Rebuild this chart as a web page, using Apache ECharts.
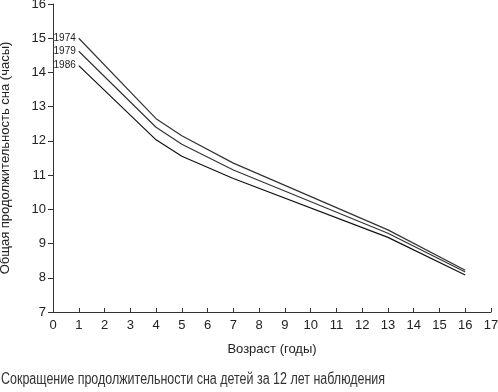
<!DOCTYPE html>
<html><head><meta charset="utf-8">
<script src="https://cdn.jsdelivr.net/npm/echarts@6/dist/echarts.min.js"></script>
<style>html,body{margin:0;padding:0;background:#fff}#c{width:498px;height:392px}</style>
</head><body><div id="c"></div>
<script>
var ages = [1, 4, 5, 7, 13, 16];
var s1974 = [15.0, 12.65, 12.15, 11.35, 9.4, 8.22];
var s1979 = [14.62, 12.4, 11.9, 11.15, 9.3, 8.17];
var s1986 = [14.2, 12.03, 11.55, 10.9, 9.18, 8.08];
var seriesNames = ['1974', '1979', '1986'];
var xTicks = [0,1,2,3,4,5,6,7,8,9,10,11,12,13,14,15,16,17];
var yTicks = [7,8,9,10,11,12,13,14,15,16];
var caption = 'Сокращение продолжительности сна детей за 12 лет наблюдения';

function mk(name, vals, color){
  return {
    name: name, type: 'line', symbol: 'circle', symbolSize: 0.01, showSymbol: true, silent: true,
    itemStyle: {color: color},
    lineStyle: {color: color, width: 1.2},
    label: {show: false},
    data: ages.map(function(a, i){
      var d = {value: [a, vals[i]]};
      if (i === 0) d.label = {show: true, position: 'left', distance: 3, formatter: name,
        fontFamily: 'Liberation Sans, Arial', fontSize: 10, color: '#222'};
      return d;
    })
  };
}
var chart = echarts.init(document.getElementById('c'), null, {renderer: 'canvas'});
chart.setOption({
  animation: false,
  grid: {left: 53, right: 7, top: 4, bottom: 80, containLabel: false, outerBoundsMode: 'none'},
  graphic: [{type: 'text', left: 1, top: 372, scaleX: 0.78,
    style: {text: caption, font: '16px "Liberation Sans", Arial, sans-serif', fill: '#333'}}],
  xAxis: {type: 'value', min: xTicks[0], max: xTicks[xTicks.length-1], interval: 1,
    name: 'Возраст (годы)', nameLocation: 'middle', nameGap: 31,
    nameTextStyle: {fontFamily: 'Liberation Sans, Arial', fontSize: 13, color: '#222'},
    axisLine: {lineStyle: {color: '#333', width: 1}},
    axisTick: {inside: true, length: 4, lineStyle: {color: '#333'}},
    axisLabel: {fontFamily: 'Liberation Sans, Arial', fontSize: 13, color: '#222', margin: 7},
    splitLine: {show: false}},
  yAxis: {type: 'value', min: yTicks[0], max: yTicks[yTicks.length-1], interval: 1,
    name: 'Общая продолжительность сна (часы)', nameLocation: 'middle', nameGap: 41,
    nameTextStyle: {fontFamily: 'Liberation Sans, Arial', fontSize: 13, color: '#222'},
    axisLine: {show: true, lineStyle: {color: '#333', width: 1}},
    axisTick: {show: true, length: 5, lineStyle: {color: '#333'}},
    axisLabel: {fontFamily: 'Liberation Sans, Arial', fontSize: 13, color: '#222', margin: 7},
    splitLine: {show: false}},
  series: [mk(seriesNames[0], s1974, '#333'), mk(seriesNames[1], s1979, '#333'), mk(seriesNames[2], s1986, '#111')]
});
</script></body></html>
